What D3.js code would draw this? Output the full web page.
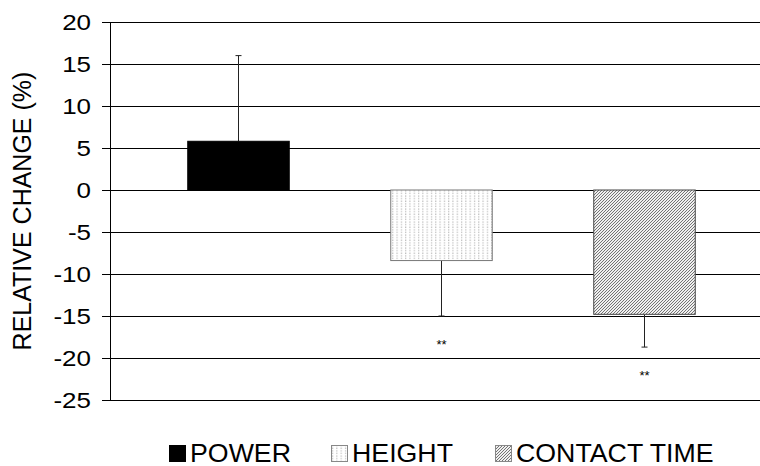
<!DOCTYPE html>
<html><head><meta charset="utf-8">
<script src="https://cdn.jsdelivr.net/npm/d3@7/dist/d3.min.js"></script>
<style>body{margin:0;background:#fff}svg{display:block}text{font-family:Arial,"Liberation Sans",sans-serif;fill:#000}</style>
</head><body>
<svg id="chart" width="760" height="466"></svg>
<script>
const categories = ["POWER", "HEIGHT", "CONTACT TIME"];
const values = [5.8, -8.4, -14.8];
const errorEnds = [16.0, -15.0, -18.7];
const significance = ["", "**", "**"];
const yTicks = [20, 15, 10, 5, 0, -5, -10, -15, -20, -25];
const yTitle = "RELATIVE CHANGE (%)";

const svg = d3.select("#chart");
const defs = svg.append("defs");
// dotted pattern
const pd = defs.append("pattern").attr("id","dots").attr("patternUnits","userSpaceOnUse")
  .attr("width",4.3).attr("height",2.6);
pd.append("rect").attr("width",4.3).attr("height",2.6).attr("fill","#fff");
pd.append("rect").attr("x",1).attr("y",0.5).attr("width",1).attr("height",1).attr("fill","#999");
// hatch pattern
const ph = defs.append("pattern").attr("id","hatch").attr("patternUnits","userSpaceOnUse")
  .attr("width",3).attr("height",3);
ph.append("rect").attr("width",3).attr("height",3).attr("fill","#f0f0f0");
ph.append("path").attr("d","M-1,1 L1,-1 M0,3 L3,0 M2,4 L4,2").attr("stroke","#666").attr("stroke-width",0.9);

const fills = ["#000", "url(#dots)", "url(#hatch)"];
const strokes = ["#000", "#777", "#444"];

const pLeft = 110, pRight = 760, pTop = 22, pBottom = 400;
const y = d3.scaleLinear().domain([-25, 20]).range([pBottom, pTop]);
const x = d3.scaleBand().domain(categories).range([136.5, 745.5]).paddingInner(0.5).paddingOuter(0.25);

// gridlines + ticks
svg.append("g").selectAll("line").data(yTicks).join("line")
  .attr("x1", pLeft - 8).attr("x2", pRight)
  .attr("y1", d => Math.round(y(d)) + 0.5).attr("y2", d => Math.round(y(d)) + 0.5)
  .attr("stroke", "#000").attr("stroke-width", 1);
// y axis
svg.append("line").attr("x1", pLeft + 0.5).attr("x2", pLeft + 0.5)
  .attr("y1", Math.round(y(20)) + 0.5).attr("y2", Math.round(y(-25)) + 0.5).attr("stroke", "#000");
svg.append("g").selectAll("text").data(yTicks).join("text")
  .attr("x", 91).attr("y", d => y(d)).attr("dy", "0.36em")
  .attr("text-anchor", "end").attr("font-size", 22)
  .attr("transform", d => `translate(${91},${y(d)}) scale(1.18,1) translate(${-91},${-y(d)})`)
  .text(d => d);

svg.append("text").attr("transform", `translate(31,${(pTop+pBottom)/2}) rotate(-90)`)
  .attr("text-anchor", "middle").attr("font-size", 25).text(yTitle);

// bars
const data = categories.map((c, i) => ({c, v: values[i], e: errorEnds[i], s: significance[i], i}));
// error bars
svg.append("g").selectAll("g").data(data).join("g").each(function(d) {
  const g = d3.select(this);
  const cx = Math.round(x(d.c) + x.bandwidth() / 2) + 0.5;
  g.append("line").attr("x1", cx).attr("x2", cx).attr("y1", y(d.v)).attr("y2", y(d.e)).attr("stroke", "#222");
  g.append("line").attr("x1", cx - 3).attr("x2", cx + 3).attr("y1", y(d.e)).attr("y2", y(d.e)).attr("stroke", "#222");
  if (d.s) g.append("text").attr("x", cx).attr("y", y(d.e) + 26).attr("dy","0.5em")
    .attr("text-anchor", "middle").attr("font-size", 13).text(d.s);
});
svg.append("g").selectAll("rect").data(data).join("rect")
  .attr("x", d => x(d.c) + 0.5).attr("width", x.bandwidth())
  .attr("y", d => Math.min(y(d.v), y(0))).attr("height", d => Math.abs(y(d.v) - y(0)))
  .attr("fill", d => fills[d.i]).attr("stroke", d => strokes[d.i]).attr("stroke-width", 1);

// legend
const legX = [169, 331, 495];
const lg = svg.append("g").selectAll("g").data(data).join("g");
lg.append("rect").attr("x", (d, i) => legX[i] + 0.5).attr("y", 445.5).attr("width", 16).attr("height", 16)
  .attr("fill", d => fills[d.i]).attr("stroke", d => d.i === 0 ? "#000" : "#888");
lg.append("text")
  .attr("transform", (d, i) => `translate(${legX[i] + 21},462) scale(1.07,1)`)
  .attr("font-size", 25).text(d => d.c);
</script>
</body></html>
